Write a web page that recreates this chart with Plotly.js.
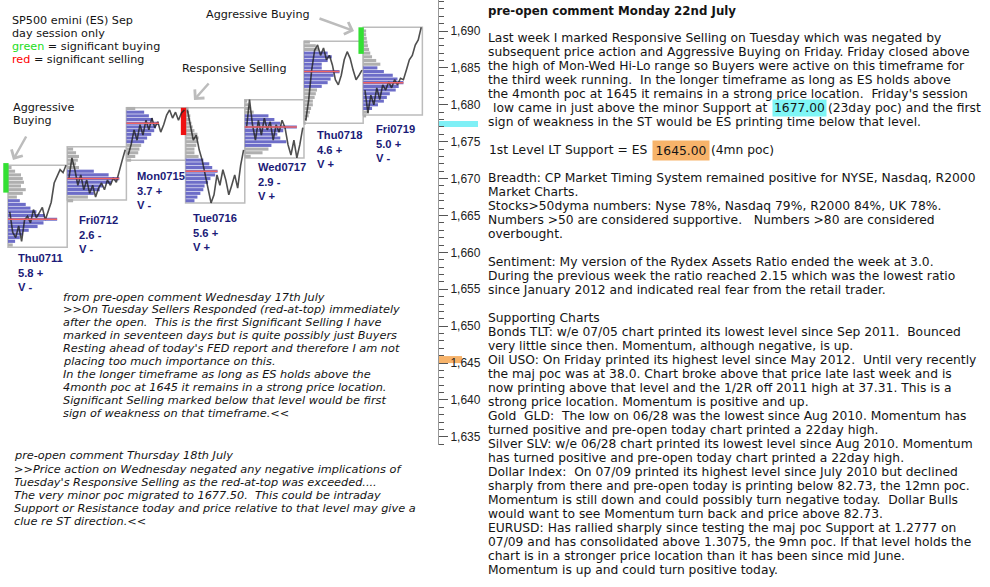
<!DOCTYPE html>
<html><head><meta charset="utf-8">
<script src="https://cdn.plot.ly/plotly-3.0.1.min.js"></script>
<style>html,body{margin:0;padding:0;background:#fff}#chart{width:990px;height:587px}</style>
</head><body><div id="chart"></div>
<script>
// ---------------- DATA ----------------
const dayNames   = ['Thu0711','Fri0712','Mon0715','Tue0716','Wed0717','Thu0718','Fri0719'];
const rangeStats = ['5.8 +','2.6 -','3.7 +','5.6 +','2.9 -','4.6 +','5.0 +'];
const volStats   = ['V -','V -','V -','V +','V +','V +','V -'];
const dayHigh = [1671.8,1674.3,1679.6,1679.6,1680.7,1688.6,1690.5];
const dayLow  = [1660.7,1667.1,1672.5,1666.7,1672.8,1677.5,1678.6];
const dayPoc  = [1664.5,1670.0,1677.5,1671.0,1677.0,1684.5,1683.0];
const vaHigh  = [1667.0,1671.0,1679.0,1672.5,1678.5,1687.0,1685.0];
const vaLow   = [1661.5,1668.0,1675.0,1667.0,1674.5,1682.5,1679.5];
const signalType = ['buy',null,null,'sell',null,null,'buy'];
const signalHigh = [1672.1,null,null,1679.6,null,null,1690.5];
const signalLow  = [1668.1,null,null,1675.9,null,null,1686.9];
const profStart = [1661.0,1667.0,1672.5,1667.0,1673.0,1677.5,1678.5];
const profThu0711 = [0.08,0.12,0.2,0.25,0.35,0.5,0.6,0.83,0.62,0.48,0.38,0.3,0.2,0.15,0.25,0.3,0.22,0.27,0.25,0.22,0.12,0.06];
const profFri0712 = [0.1,0.35,0.45,0.55,0.6,0.75,0.88,0.7,0.45,0.2,0.15,0.18,0.2,0.15,0.1];
const profMon0715 = [0.08,0.15,0.2,0.22,0.25,0.3,0.35,0.42,0.47,0.5,0.55,0.45,0.38,0.3,0.15];
const profTue0716 = [0.15,0.2,0.25,0.3,0.32,0.38,0.42,0.5,0.54,0.45,0.4,0.3,0.22,0.15,0.15,0.18,0.2,0.22,0.2,0.15,0.12,0.1,0.08,0.08,0.06,0.05];
const profWed0717 = [0.1,0.3,0.4,0.45,0.7,0.6,0.55,0.65,0.88,0.6,0.5,0.4,0.15,0.1,0.06,0.04];
const profThu0718 = [0.03,0.05,0.08,0.1,0.12,0.15,0.15,0.18,0.2,0.22,0.3,0.4,0.45,0.5,0.6,0.3,0.3,0.4,0.47,0.4,0.25,0.2,0.1];
const profFri0719 = [0.05,0.1,0.15,0.25,0.35,0.4,0.45,0.55,0.6,0.68,0.58,0.5,0.35,0.24,0.29,0.22,0.15,0.12,0.1,0.08,0.07,0.06,0.05,0.05];
const lineThu0711 = [1665.5,1662.7,1662.0,1663.6,1661.5,1664.4,1664.9,1664.0,1665.8,1664.7,1665.4,1666.1,1664.4,1665.7,1666.8,1669.4,1670.3,1671.2,1670.8,1671.8];
const lineFri0712 = [1670.1,1672.8,1671.2,1669.1,1670.5,1668.5,1669.8,1668.0,1669.1,1667.5,1668.7,1669.4,1668.5,1669.8,1669.1,1670.1,1669.5,1671.2,1672.5,1673.9];
const lineMon0715 = [1673.2,1674.6,1676.6,1675.2,1677.3,1675.9,1677.9,1676.6,1678.2,1676.9,1677.7,1676.3,1677.3,1678.6,1679.3,1678.2,1679.0,1677.9,1678.9,1679.3];
const lineTue0716 = [1679.3,1677.3,1675.2,1675.9,1673.9,1672.5,1670.5,1668.5,1666.7,1667.8,1670.5,1669.1,1671.2,1669.8,1667.8,1669.1,1670.5,1668.7,1671.8,1673.9];
const lineWed0717 = [1676.9,1680.7,1677.3,1675.2,1677.9,1675.9,1678.2,1676.6,1677.7,1675.2,1677.3,1676.3,1677.9,1676.9,1674.6,1673.2,1675.2,1672.8,1674.6,1676.9];
const lineThu0718 = [1677.9,1680.7,1684.7,1687.4,1688.1,1686.7,1687.7,1686.1,1686.7,1685.4,1683.4,1682.7,1684.0,1686.1,1687.2,1686.3,1684.7,1683.4,1684.0,1684.7];
const lineFri0719 = [1682.0,1678.9,1681.3,1680.0,1682.3,1680.7,1682.7,1682.0,1683.1,1682.3,1683.4,1682.7,1683.6,1683.4,1684.7,1686.1,1686.7,1688.1,1688.8,1690.5];
const supportLT = 1645.0;
const supportST = 1677.0;
const yTickStep = 5;

const profiles = [profThu0711,profFri0712,profMon0715,profTue0716,profWed0717,profThu0718,profFri0719];
const priceLines = [lineThu0711,lineFri0712,lineMon0715,lineTue0716,lineWed0717,lineThu0718,lineFri0719];

// ---------------- LAYOUT CONSTANTS ----------------
const PLOT_W = 438, PLOT_H = 445;
const Y_MIN = 1633.9, Y_MAX = 1694.2;
const X_MIN = -0.135, X_MAX = 7.264;
const px = x => x / PLOT_W;
const py = y => (PLOT_H - y) / PLOT_H;
const pp = p => (p - Y_MIN) / (Y_MAX - Y_MIN);
const LEVEL = 0.5;
const labelDx = [8,10,9,5,11,11,11];
const labelDy = [3,12,8,7,1,4,6];

// ---------------- TRACES ----------------
const traces = [];
const gray = {x:[],y:[],base:[]}, blue = {x:[],y:[],base:[]};
profiles.forEach((prof,i)=>{
  prof.forEach((len,k)=>{
    const lvl = profStart[i] + LEVEL*k;
    const t = (lvl >= vaLow[i] - 1e-9 && lvl <= vaHigh[i] + 1e-9) ? blue : gray;
    t.x.push(len); t.y.push(lvl); t.base.push(i);
  });
});
traces.push({type:'bar',orientation:'h',x:gray.x,y:gray.y,base:gray.base,width:0.42,
  marker:{color:'#afafaf',line:{width:0}},hoverinfo:'skip',showlegend:false});
traces.push({type:'bar',orientation:'h',x:blue.x,y:blue.y,base:blue.base,width:0.42,
  marker:{color:'#6d6dc8',line:{width:0}},hoverinfo:'skip',showlegend:false});
priceLines.forEach((arr,i)=>{
  const n = arr.length;
  traces.push({type:'scatter',mode:'lines',x:arr.map((v,k)=>i+0.03+0.95*k/(n-1)),y:arr,
    line:{color:'#1e1e1e',width:1.6},opacity:0.78,hoverinfo:'skip',showlegend:false});
});
const pocX=[],pocY=[];
dayPoc.forEach((p,i)=>{
  const k = Math.round((p - profStart[i])/LEVEL);
  pocX.push(i, i+profiles[i][k], null); pocY.push(p,p,null);
});
traces.push({type:'scatter',mode:'lines',x:pocX,y:pocY,line:{color:'#f06464',width:1.5},hoverinfo:'skip',showlegend:false});
signalType.forEach((s,i)=>{
  if(!s) return;
  traces.push({type:'bar',x:[i-0.035],y:[signalHigh[i]-signalLow[i]],base:[signalLow[i]],width:0.09,
    marker:{color: s==='buy' ? '#33e033' : '#ee1111',line:{width:0}},hoverinfo:'skip',showlegend:false});
});

// ---------------- SHAPES ----------------
const shapes = [];
dayNames.forEach((d,i)=>{
  shapes.push({type:'rect',xref:'x',yref:'y',x0:i,x1:i+1,y0:dayLow[i],y1:dayHigh[i],
    line:{color:'#bcbcbc',width:1.5},fillcolor:'rgba(0,0,0,0)',layer:'below'});
});
shapes.push({type:'rect',xref:'paper',yref:'paper',x0:px(439),x1:px(478),y0:pp(supportST),y1:pp(supportST+0.8),
  line:{width:0},fillcolor:'#7ff0f6',layer:'below'});
shapes.push({type:'rect',xref:'paper',yref:'paper',x0:px(439),x1:px(462),y0:pp(supportLT),y1:pp(supportLT+0.95),
  line:{width:0},fillcolor:'#f7b36a',layer:'below'});

// ---------------- ANNOTATIONS ----------------
const ann = [];
const FONT = 'DejaVu Sans, Verdana, sans-serif';
const BODY = 12.3;
const fixSp = s => s.replace(/  /g,'\u00a0 ');
function txt(x,y,text,opt={}){
  ann.push(Object.assign({xref:'paper',yref:'paper',x:px(x),y:py(y),text:fixSp(text),showarrow:false,
    xanchor:'left',yanchor:'middle',borderpad:0,
    font:{family:FONT,size:BODY,color:'#141414'}},opt));
}
const small = {family:FONT,size:11.2,color:'#141414'};
dayNames.forEach((d,i)=>{
  ann.push({xref:'x',yref:'y',x:i,y:dayLow[i],xanchor:'left',yanchor:'top',xshift:labelDx[i],yshift:-labelDy[i],
    text:'<b>'+d+'<br>'+rangeStats[i]+'<br>'+volStats[i]+'</b>',showarrow:false,align:'left',
    font:{family:'Liberation Sans, Arial, sans-serif',size:11.2,color:'#1b1b78'}});
});
txt(11,20,'SP500 emini (ES) Sep',{font:small});
txt(11,33,'day session only',{font:small});
txt(11,46,'<span style="color:#22dd22">green</span> = significant buying',{font:small});
txt(11,59,'<span style="color:#ff0000">red</span> = significant selling',{font:small});
txt(205,15,'Aggressive Buying',{font:small});
txt(181,69,'Responsive Selling',{font:small});
txt(12,108,'Aggressive',{font:small});
txt(12,121,'Buying',{font:small});
function arrow(tx,ty,fx,fy){
  ann.push({xref:'paper',yref:'paper',x:px(tx),y:py(ty),ax:fx-tx,ay:fy-ty,text:'',showarrow:true,
    arrowhead:4,arrowsize:1,arrowwidth:2.5,arrowcolor:'#bcbcbc',standoff:0,startstandoff:0});
}
arrow(13,160,27,135);
arrow(194,100,210,82);
arrow(354,31,318,18);
const ital = {family:FONT,size:11.3,color:'#141414'};
const commentWed = [
 'from pre-open comment Wednesday 17th July',
 '&gt;&gt;On Tuesday Sellers Responded (red-at-top) immediately',
 'after the open.  This is the first Significant Selling I have',
 'marked in seventeen days but is quite possibly just Buyers',
 "Resting ahead of today's FED report and therefore I am not",
 'placing too much importance on this.',
 'In the longer timeframe as long as ES holds above the',
 '4month poc at 1645 it remains in a strong price location.',
 'Significant Selling marked below that level would be first',
 'sign of weakness on that timeframe.&lt;&lt;'];
commentWed.forEach((l,k)=>txt(62,297+12.9*k,'<i>'+l+'</i>',{font:ital}));
const commentThu = [
 'pre-open comment Thursday 18th July',
 '&gt;&gt;Price action on Wednesday negated any negative implications of',
 "Tuesday's Responsive Selling as the red-at-top was exceeded....",
 'The very minor poc migrated to 1677.50.  This could be intraday',
 'Support or Resistance today and price relative to that level may give a',
 'clue re ST direction.&lt;&lt;'];
commentThu.forEach((l,k)=>txt(13,456+13*k,'<i>'+l+'</i>',{font:ital}));
txt(487,11,'<b>pre-open comment Monday 22nd July</b>',{font:{family:FONT,size:11.8,color:'#141414'}});
const rightLines = [
 'Last week I marked Responsive Selling on Tuesday which was negated by',
 'subsequent price action and Aggressive Buying on Friday. Friday closed above',
 'the high of Mon-Wed Hi-Lo range so Buyers were active on this timeframe for',
 'the third week running.  In the longer timeframe as long as ES holds above',
 "the 4month poc at 1645 it remains in a strong price location.  Friday's session",
 null,
 'sign of weakness in the ST would be ES printing time below that level.',
 '', null, '',
 'Breadth: CP Market Timing System remained positive for NYSE, Nasdaq, R2000',
 'Market Charts.',
 'Stocks&gt;50dyma numbers: Nyse 78%, Nasdaq 79%, R2000 84%, UK 78%.',
 'Numbers &gt;50 are considered supportive.   Numbers &gt;80 are considered',
 'overbought.',
 '',
 'Sentiment: My version of the Rydex Assets Ratio ended the week at 3.0.',
 'During the previous week the ratio reached 2.15 which was the lowest ratio',
 'since January 2012 and indicated real fear from the retail trader.',
 '',
 'Supporting Charts',
 'Bonds TLT: w/e 07/05 chart printed its lowest level since Sep 2011.  Bounced',
 'very little since then. Momentum, although negative, is up.',
 'Oil USO: On Friday printed its highest level since May 2012.  Until very recently',
 'the maj poc was at 38.0. Chart broke above that price late last week and is',
 'now printing above that level and the 1/2R off 2011 high at 37.31. This is a',
 'strong price location. Momentum is positive and up.',
 'Gold  GLD:  The low on 06/28 was the lowest since Aug 2010. Momentum has',
 'turned positive and pre-open today chart printed a 22day high.',
 'Silver SLV: w/e 06/28 chart printed its lowest level since Aug 2010. Momentum',
 'has turned positive and pre-open today chart printed a 22day high.',
 'Dollar Index:  On 07/09 printed its highest level since July 2010 but declined',
 'sharply from there and pre-open today is printing below 82.73, the 12mn poc.',
 'Momentum is still down and could possibly turn negative today.  Dollar Bulls',
 'would want to see Momentum turn back and price above 82.73.',
 'EURUSD: Has rallied sharply since testing the maj poc Support at 1.2777 on',
 '07/09 and has consolidated above 1.3075, the 9mn poc. If that level holds the',
 'chart is in a stronger price location than it has been since mid June.',
 'Momentum is up and could turn positive today.'];
rightLines.forEach((l,k)=>{ if(l) txt(487,38+14*k,l); });
function hlLine(y,pre,hl,post,x0,x1,bg,pad){
  txt(x0,y,pre+'\u00a0',{xanchor:'right'});
  txt(x0,y,hl,{bgcolor:bg,borderpad:pad});
  txt(x1,y,'\u00a0'+post);
}
hlLine(38+14*5,'low came in just above the minor Support at',supportST.toFixed(2),'(23day poc) and the first',772,823,'#7ff6f6',1);
hlLine(38+14*8,'1st Level LT Support = ES',supportLT.toFixed(2),'(4mn poc)',652,706,'#f7b36a',2.5);

// ---------------- LAYOUT ----------------
const layout = {
  width:990,height:587,paper_bgcolor:'#fff',plot_bgcolor:'rgba(0,0,0,0)',
  margin:{l:0,r:990-PLOT_W,t:0,b:587-PLOT_H,pad:0},
  showlegend:false,barmode:'overlay',
  xaxis:{range:[X_MIN,X_MAX],visible:false,fixedrange:true},
  yaxis:{range:[Y_MIN,Y_MAX],side:'right',showline:true,linecolor:'#999',linewidth:1,
    showgrid:false,zeroline:false,ticks:'outside',ticklen:9,tickwidth:1,tickcolor:'#555',
    dtick:yTickStep,tick0:1635,tickformat:',',
    minor:{dtick:1,ticks:'outside',ticklen:5,tickwidth:1,tickcolor:'#555',showgrid:false},
    tickfont:{family:'Liberation Sans, Arial, sans-serif',size:12,color:'#222'},fixedrange:true},
  shapes:shapes,annotations:ann
};
Plotly.newPlot('chart',traces,layout,{staticPlot:true,displayModeBar:false});
</script></body></html>
